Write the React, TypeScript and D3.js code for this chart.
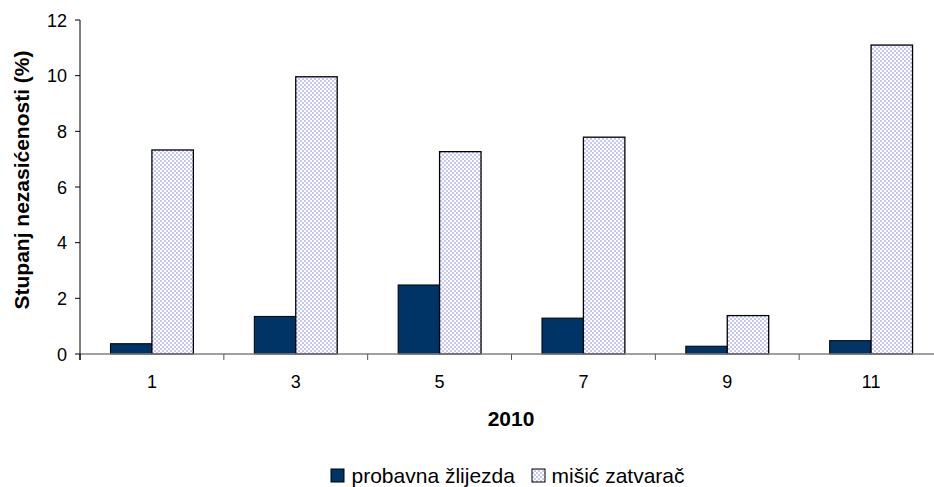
import React from "react";
import * as d3 from "d3";

const categories = ["1", "3", "5", "7", "9", "11"];
const seriesNames = ["probavna žlijezda", "mišić zatvarač"];
const probavna = [0.37, 1.35, 2.48, 1.29, 0.28, 0.48];
const misic = [7.33, 9.96, 7.27, 7.79, 1.38, 11.1];
const yTicks = [0, 2, 4, 6, 8, 10, 12];

const W = 934;
const H = 487;
const left = 80;
const right = 943;
const top = 20;
const bottom = 354;
const FONT = "'Liberation Sans', Arial, sans-serif";

export default function App() {
  const x = d3.scaleBand<string>().domain(categories).range([left, right]).padding(0);
  const x1 = d3
    .scaleBand<string>()
    .domain(["a", "b"])
    .range([0, x.bandwidth()])
    .paddingInner(0)
    .paddingOuter(0.735);
  const y = d3.scaleLinear().domain([0, 12]).range([bottom, top]);

  return (
    <svg
      width={W}
      height={H}
      style={{ position: "absolute", left: 0, top: 0, background: "#fff" }}
      fontFamily={FONT}
    >
      <defs>
        <pattern id="chk" width="4" height="4" patternUnits="userSpaceOnUse">
          <rect width="4" height="4" fill="#ffffff" />
          <rect x="0" y="0" width="2" height="2" fill="#c6c6fb" />
          <rect x="2" y="2" width="2" height="2" fill="#c6c6fb" />
        </pattern>
      </defs>

      {/* bars */}
      {categories.map((c, i) => {
        const bx = x(c)!;
        return (
          <g key={c}>
            <rect
              x={bx + x1("a")!}
              y={y(probavna[i])}
              width={x1.bandwidth()}
              height={bottom - y(probavna[i])}
              fill="#003366"
              stroke="#000"
              strokeWidth={1}
            />
            <rect
              x={bx + x1("b")!}
              y={y(misic[i])}
              width={x1.bandwidth()}
              height={bottom - y(misic[i])}
              fill="url(#chk)"
              stroke="#000"
              strokeWidth={1.3}
            />
          </g>
        );
      })}

      {/* x axis */}
      <line x1={left} x2={right} y1={bottom} y2={bottom} stroke="#808080" strokeWidth={1.3} />
      {categories.map((c) => (
        <line key={"t" + c} x1={x(c)! + x.bandwidth()} x2={x(c)! + x.bandwidth()} y1={bottom} y2={bottom + 6} stroke="#555" />
      ))}
      <line x1={left} x2={left} y1={bottom} y2={bottom + 6} stroke="#000" />
      {categories.map((c) => (
        <text
          key={"l" + c}
          x={x(c)! + x.bandwidth() / 2}
          y={388}
          textAnchor="middle"
          fontSize={18}
          fill="#000"
        >
          {c}
        </text>
      ))}

      {/* y axis */}
      <line x1={left} x2={left} y1={top} y2={bottom + 6} stroke="#000" strokeWidth={1} />
      {yTicks.map((t) => (
        <g key={"y" + t}>
          <line x1={left - 5} x2={left} y1={y(t)} y2={y(t)} stroke="#000" />
          <text x={67} y={y(t) + 6.5} textAnchor="end" fontSize={18} fill="#000">
            {t}
          </text>
        </g>
      ))}

      {/* titles */}
      <text x={511} y={426} textAnchor="middle" fontSize={21} fontWeight="bold" fill="#000">
        2010
      </text>
      <text
        transform={`translate(29, 180) rotate(-90)`}
        textAnchor="middle"
        fontSize={21}
        fontWeight="bold"
        fill="#000"
      >
        Stupanj nezasićenosti (%)
      </text>

      {/* legend */}
      <rect x={331} y={469} width={13} height={13} fill="#003366" stroke="#000" />
      <text x={351.5} y={483} fontSize={21} fill="#000">
        {seriesNames[0]}
      </text>
      <rect x={532} y={469} width={13} height={13} fill="url(#chk)" stroke="#000" />
      <text x={551.5} y={483} fontSize={21} fill="#000">
        {seriesNames[1]}
      </text>
    </svg>
  );
}
